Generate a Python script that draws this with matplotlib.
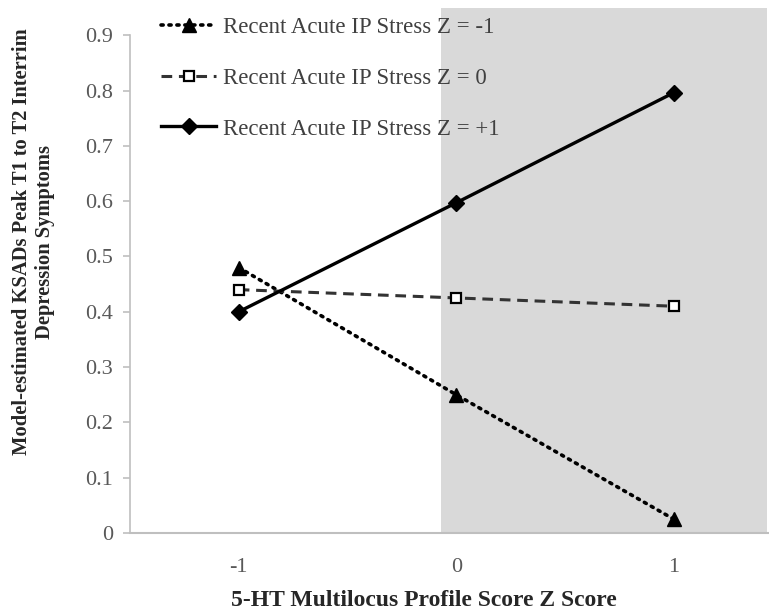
import numpy as np
import matplotlib
matplotlib.use("Agg")
import matplotlib.pyplot as plt

plt.rcParams['font.family'] = ['Liberation Serif', 'DejaVu Serif']

# data
x_vals = [-1, 0, 1]
x_ticklabels = ["-1", "0", "1"]
stress_low = [0.48, 0.25, 0.025]    # Z = -1
stress_mid = [0.44, 0.425, 0.41]    # Z = 0
stress_high = [0.40, 0.597, 0.796]  # Z = +1
labels = ["Recent Acute IP Stress Z = -1",
          "Recent Acute IP Stress Z = 0",
          "Recent Acute IP Stress Z = +1"]
y_ticks = [0, 0.1, 0.2, 0.3, 0.4, 0.5, 0.6, 0.7, 0.8, 0.9]

fig = plt.figure(figsize=(7.69, 6.11), dpi=100)
ax = fig.add_axes([0.169, 0.1277, 0.8485, 0.859])

ax.set_xlim(-1.5, 1.5)
ax.set_ylim(0, 0.949)

# shaded region (high profile scores)
ax.axvspan(-0.07, 1.43, color="#d9d9d9", zorder=0, lw=0)

ax.plot(x_vals, stress_low, linestyle=(0, (0.6, 1.6)), dash_capstyle="round",
        color="black", lw=2.6, marker="^", markersize=10, label=labels[0], zorder=3)
ax.plot(x_vals, stress_mid, linestyle=(0, (3.5, 2.2)), color="#333333", lw=2.2,
        marker="s", markersize=6.5, markerfacecolor="white", markeredgecolor="black",
        markeredgewidth=1.6, label=labels[1], zorder=3)
ax.plot(x_vals, stress_high, linestyle="-", color="black", lw=2.4,
        marker="D", markersize=8, label=labels[2], zorder=3)

for s in ["top", "right"]:
    ax.spines[s].set_visible(False)
ax.spines["left"].set_color("#bfbfbf")
ax.spines["bottom"].set_color("#bfbfbf")
ax.spines["left"].set_linewidth(1.2)
ax.spines["bottom"].set_linewidth(1.5)
ax.spines["left"].set_bounds(0, 0.9)

ax.set_yticks(y_ticks)
ax.set_yticklabels(["0"] + ["%.1f" % v for v in y_ticks[1:]])
ax.set_xticks(x_vals)
ax.set_xticklabels(x_ticklabels)
ax.tick_params(axis="y", colors="#bfbfbf", labelcolor="#595959", labelsize=16,
               length=5, width=1.2, pad=7)
ax.tick_params(axis="x", length=0, labelcolor="#595959", labelsize=16, pad=18)

fig.text(0.551, 0.018, "5-HT Multilocus Profile Score Z Score", fontsize=17,
         fontweight="bold", color="#262626", ha="center", va="center")
fig.text(0.044, 0.604, "Model-estimated KSADs Peak T1 to T2 Interrim\nDepression Symptoms",
         rotation=90, ha="center", va="center", fontsize=14.8, fontweight="bold",
         color="#262626", linespacing=1.2)

leg = ax.legend(loc="upper left", bbox_to_anchor=(0.192, 0.995), bbox_transform=fig.transFigure,
                frameon=False, fontsize=16.5, handlelength=2.4, handletextpad=0.3,
                labelspacing=1.3, numpoints=1, borderaxespad=0.2)
for t in leg.get_texts():
    t.set_color("#404040")

fig.savefig("out.png", dpi=100)
